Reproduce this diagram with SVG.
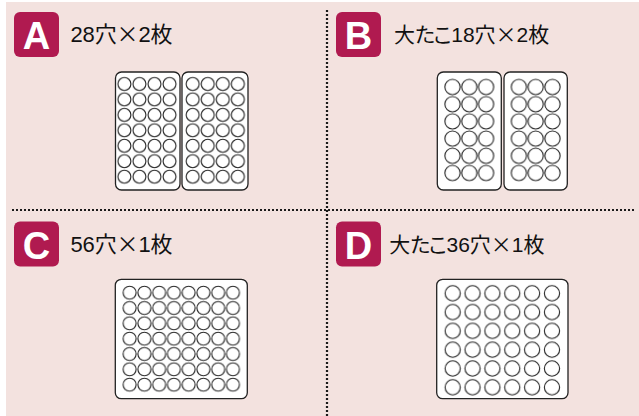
<svg xmlns="http://www.w3.org/2000/svg" width="639" height="416" viewBox="0 0 639 416">
<style>
.bg{fill:#f3e2df}
.badge{fill:#b01a50}
.bl{fill:#fff;font-family:"Liberation Sans",Arial,sans-serif;font-weight:bold;font-size:38px;text-anchor:middle}
.lbl{fill:#111;font-family:"Liberation Sans","Noto Sans CJK JP",sans-serif;font-size:22px;font-feature-settings:"palt"}
.sm{font-size:21px}
.k{letter-spacing:-1.5px}
.x{font-family:"Noto Sans CJK JP",sans-serif}
.plate{fill:#fff;stroke:#222;stroke-width:1.3}
.dot{stroke:#1a1a1a;stroke-width:2.2;stroke-dasharray:2 2;fill:none}
</style>
<defs>
<pattern id="pA" patternUnits="userSpaceOnUse" x="0" y="76.275" width="15.05" height="15.45">
<circle cx="7.525" cy="7.725" r="6.5" fill="#fff" stroke="#222" stroke-width="1.1"/>
</pattern>
<pattern id="pB" patternUnits="userSpaceOnUse" x="0" y="78.4" width="16.8" height="17.2">
<circle cx="8.4" cy="8.6" r="7.6" fill="#fff" stroke="#222" stroke-width="1.1"/>
</pattern>
<pattern id="pC" patternUnits="userSpaceOnUse" x="0" y="285.03" width="14.76" height="15.33">
<circle cx="7.38" cy="7.665" r="6.5" fill="#fff" stroke="#222" stroke-width="1.1"/>
</pattern>
<pattern id="pD" patternUnits="userSpaceOnUse" x="0" y="283.9" width="19.86" height="18.8">
<circle cx="9.93" cy="9.4" r="7.6" fill="#fff" stroke="#222" stroke-width="1.1"/>
</pattern>
</defs>
<rect class="bg" x="6" y="2" width="633" height="414"/>
<g id="connectors">
<line class="dot" x1="327" y1="10" x2="327" y2="416"/>
<line class="dot" x1="12" y1="210" x2="636" y2="210"/>
</g>
<g id="nodeA">
<rect class="badge" x="14" y="12" width="45" height="45" rx="6"/>
<text class="bl" x="36.5" y="49">A</text>
<text class="lbl" x="70.5" y="41.7" textLength="102" lengthAdjust="spacing">28穴<tspan class="x">×</tspan>2枚</text>
<rect class="plate" x="115.5" y="72" width="64.5" height="118" rx="6"/>
<rect class="plate" x="182" y="72" width="66" height="118" rx="6"/>
<g transform="translate(116.875,0)"><rect x="0" y="76.275" width="60.2" height="108.15" fill="url(#pA)"/></g>
<g transform="translate(185.2,0)"><rect x="0" y="76.275" width="60.2" height="108.15" fill="url(#pA)"/></g>
</g>
<g id="nodeB">
<rect class="badge" x="336" y="12" width="45" height="45" rx="6"/>
<text class="bl" x="358.5" y="49">B</text>
<text class="lbl sm" x="394" y="41.7">大<tspan class="k">たこ</tspan><tspan dx="1">18穴</tspan><tspan class="x">×</tspan>2枚</text>
<rect class="plate" x="437.3" y="72" width="64" height="118" rx="6"/>
<rect class="plate" x="504" y="72" width="63.3" height="118" rx="6"/>
<g transform="translate(444.1,0)"><rect x="0" y="78.4" width="50.4" height="103.2" fill="url(#pB)"/></g>
<g transform="translate(510.5,0)"><rect x="0" y="78.4" width="50.4" height="103.2" fill="url(#pB)"/></g>
</g>
<g id="nodeC">
<rect class="badge" x="14" y="221.5" width="45" height="45" rx="6"/>
<text class="bl" x="36.5" y="258.5">C</text>
<text class="lbl" x="70.5" y="251.7" textLength="102" lengthAdjust="spacing">56穴<tspan class="x">×</tspan>1枚</text>
<rect class="plate" x="115.3" y="279.3" width="132" height="119.4" rx="6"/>
<g transform="translate(122.26,0)"><rect x="0" y="285.03" width="118.08" height="107.31" fill="url(#pC)"/></g>
</g>
<g id="nodeD">
<rect class="badge" x="336" y="221.5" width="45" height="45" rx="6"/>
<text class="bl" x="358.5" y="258.5">D</text>
<text class="lbl sm" x="389.3" y="251.7">大<tspan class="k">たこ</tspan><tspan dx="1">36穴</tspan><tspan class="x">×</tspan>1枚</text>
<rect class="plate" x="436.7" y="279.3" width="131.3" height="119.4" rx="6"/>
<g transform="translate(442.77,0)"><rect x="0" y="283.9" width="119.16" height="112.8" fill="url(#pD)"/></g>
</g>
</svg>
